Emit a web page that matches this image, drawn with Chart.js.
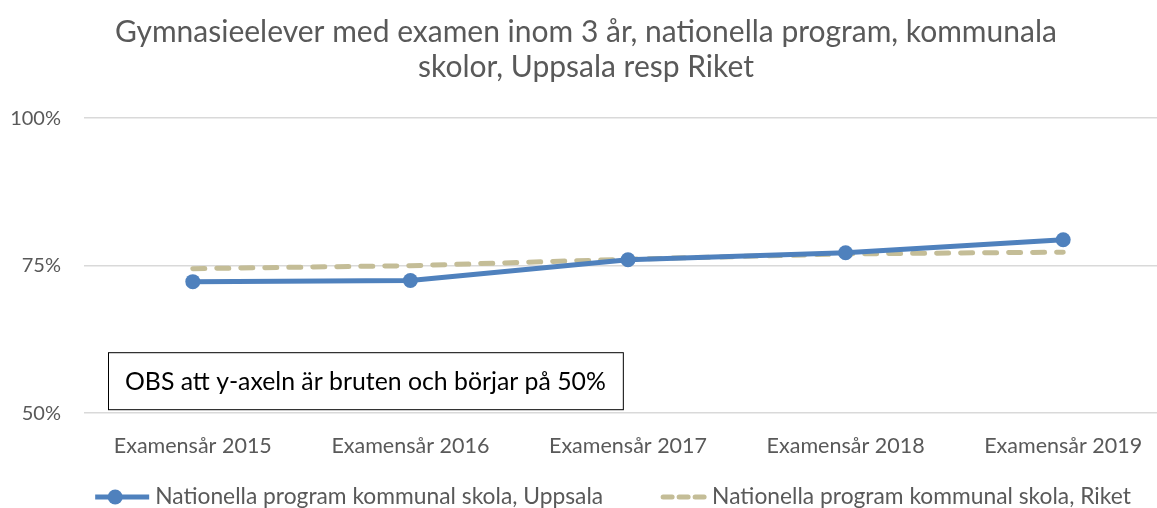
<!DOCTYPE html>
<html>
<head>
<meta charset="utf-8">
<script src="https://cdn.jsdelivr.net/npm/chart.js@4"></script>
<style>
  html, body { margin: 0; padding: 0; background: #fff; overflow: hidden; }
  #wrap { width: 1190px; height: 508px; }
</style>
</head>
<body>
<div id="wrap"><canvas id="grafico" width="1190" height="508"></canvas></div>
<script>
// data
var kategorier = ['Examensår 2015', 'Examensår 2016', 'Examensår 2017', 'Examensår 2018', 'Examensår 2019'];
var uppsala = [72.3, 72.5, 76.0, 77.2, 79.4];
var riket = [74.5, 75.0, 76.1, 77.0, 77.3];
var yTicks = [50, 75, 100];

var titel = ['Gymnasieelever med examen inom 3 år, nationella program, kommunala', 'skolor, Uppsala resp Riket'];
var etiketter = ['Nationella program kommunal skola, Uppsala', 'Nationella program kommunal skola, Riket'];
var notering = 'OBS att y-axeln är bruten och börjar på 50%';

var fonte = 'Lato, "Open Sans", sans-serif';
var cinza = '#595959';
var azul = '#4F81BD';
var bege = '#C4BD97';

// text box in the lower left of the plot
var caixaNota = {
    id: 'caixaNota',
    afterDatasetsDraw: function (chart) {
        var ctx = chart.ctx;
        var area = chart.chartArea;
        var y = chart.scales.y;
        ctx.save();
        ctx.font = '24.8px ' + fonte;
        var larg = ctx.measureText(notering).width;
        var x0 = area.left + 24;
        var y1 = y.getPixelForValue(50) - 4;
        var alt = 57;
        var w = larg + 34;
        ctx.fillStyle = '#fff';
        ctx.fillRect(x0, y1 - alt, w, alt);
        ctx.strokeStyle = '#000';
        ctx.lineWidth = 1;
        ctx.strokeRect(x0 + 0.5, y1 - alt + 0.5, w, alt);
        ctx.fillStyle = '#000';
        ctx.textBaseline = 'middle';
        ctx.textAlign = 'left';
        ctx.fillText(notering, x0 + 17, y1 - alt / 2 + 1);
        ctx.restore();
    }
};

// legend drawn by hand: line with marker, and dashed line
var legenda = {
    id: 'legenda',
    afterDraw: function (chart) {
        var ctx = chart.ctx;
        var ds = chart.data.datasets;
        var simbolo = 54;
        var espaco = 6;
        var entre = 57;
        var yc = 497;
        ctx.save();
        ctx.font = '22.8px ' + fonte;
        var larguras = ds.map(function (d) { return ctx.measureText(d.label).width; });
        var total = 0;
        for (var i = 0; i < ds.length; i++) {
            total += simbolo + espaco + larguras[i];
        }
        total += entre * (ds.length - 1);
        var x = 617 - total / 2;
        for (var i = 0; i < ds.length; i++) {
            var d = ds[i];
            ctx.strokeStyle = d.borderColor;
            ctx.lineWidth = d.borderWidth;
            ctx.beginPath();
            if (d.borderDash) {
                ctx.lineCap = 'round';
                ctx.setLineDash([9, 7]);
                ctx.moveTo(x + 3, yc);
                ctx.lineTo(x + 45, yc);
            } else {
                ctx.lineCap = 'butt';
                ctx.setLineDash([]);
                ctx.moveTo(x, yc);
                ctx.lineTo(x + simbolo, yc);
            }
            ctx.stroke();
            ctx.setLineDash([]);
            if (d.pointRadius > 0) {
                ctx.fillStyle = d.borderColor;
                ctx.beginPath();
                ctx.arc(x + 20, yc, d.pointRadius, 0, Math.PI * 2);
                ctx.fill();
            }
            ctx.fillStyle = cinza;
            ctx.textBaseline = 'middle';
            ctx.textAlign = 'left';
            var pulo = d.borderDash ? 52 : simbolo + espaco;
            ctx.fillText(d.label, x + pulo, yc);
            x += pulo + larguras[i] + entre;
        }
        ctx.restore();
    }
};

var grafico = new Chart(document.getElementById('grafico').getContext('2d'), {
    type: 'line',
    data: {
        labels: kategorier,
        datasets: [{
            label: etiketter[0],
            data: uppsala,
            borderColor: azul,
            backgroundColor: azul,
            borderWidth: 5,
            pointRadius: 7.5,
            pointHoverRadius: 7.5,
            pointBackgroundColor: azul,
            pointBorderWidth: 0,
            tension: 0
        }, {
            label: etiketter[1],
            data: riket,
            borderColor: bege,
            backgroundColor: bege,
            borderWidth: 5,
            borderDash: [12, 12],
            borderCapStyle: 'round',
            pointRadius: 0,
            tension: 0
        }]
    },
    options: {
        responsive: false,
        animation: false,
        layout: {
            padding: { left: 0, right: 18, top: 0, bottom: 37 }
        },
        plugins: {
            legend: { display: false },
            tooltip: { enabled: false },
            title: {
                display: true,
                text: titel,
                color: cinza,
                font: { family: fonte, size: 30, weight: 'normal', lineHeight: 1.17 },
                padding: { top: 15, bottom: 33 }
            }
        },
        scales: {
            x: {
                offset: true,
                grid: { display: false },
                border: { display: false },
                ticks: {
                    color: cinza,
                    font: { family: fonte, size: 21.5 },
                    padding: 12,
                    maxRotation: 0
                }
            },
            y: {
                min: 50,
                max: 100,
                afterFit: function (s) { s.width = 84; },
                afterBuildTicks: function (s) {
                    s.ticks = yTicks.map(function (v) { return { value: v }; });
                },
                grid: { color: '#D9D9D9', lineWidth: 1.5, drawTicks: false },
                border: { display: false },
                ticks: {
                    color: cinza,
                    font: { family: fonte, size: 20 },
                    padding: 23,
                    callback: function (v) { return v + '%'; }
                }
            }
        }
    },
    plugins: [caixaNota, legenda]
});
</script>
</body>
</html>
